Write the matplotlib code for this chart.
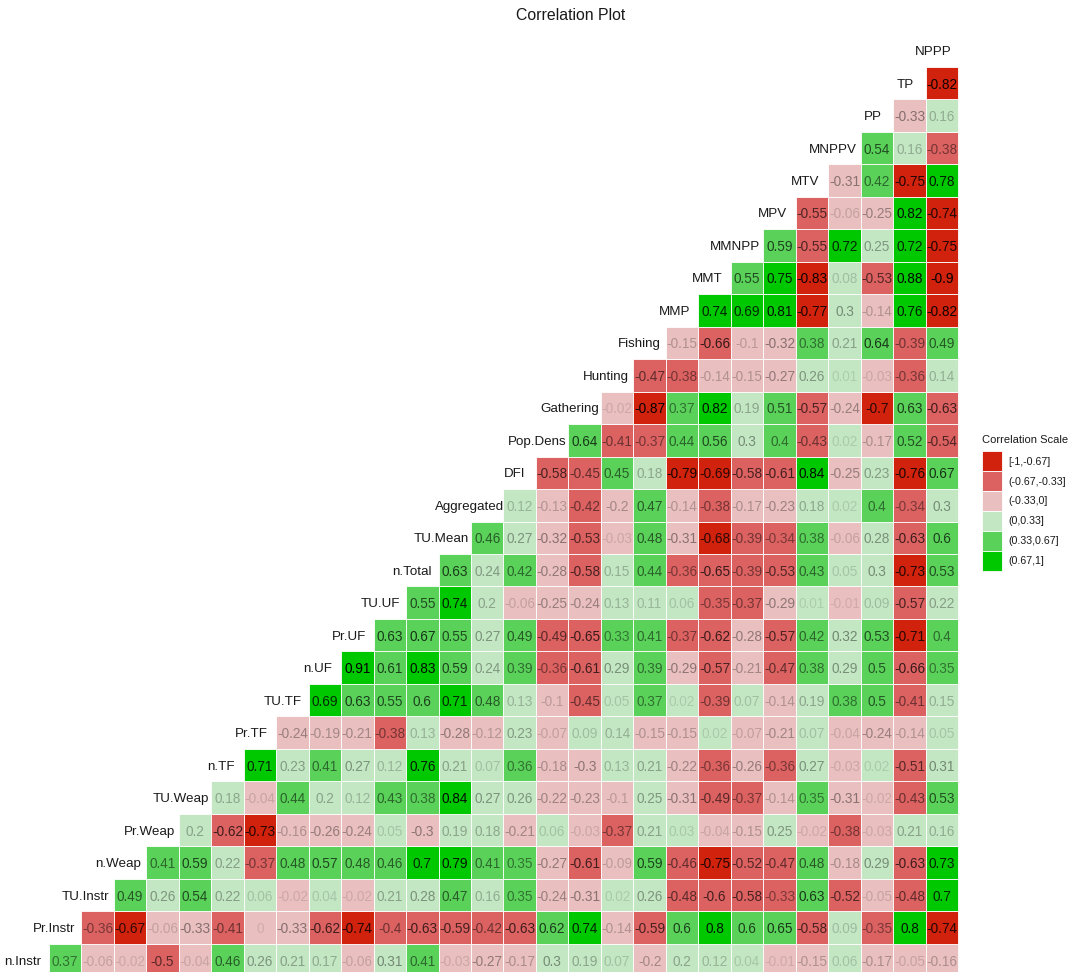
import numpy as np
import matplotlib.pyplot as plt
from matplotlib.patches import Rectangle, Patch

plt.rcParams['font.family'] = ['Liberation Sans', 'DejaVu Sans']

variables = ["n.Instr", "Pr.Instr", "TU.Instr", "n.Weap", "Pr.Weap", "TU.Weap",
             "n.TF", "Pr.TF", "TU.TF", "n.UF", "Pr.UF", "TU.UF", "n.Total",
             "TU.Mean", "Aggregated", "DFI", "Pop.Dens", "Gathering", "Hunting",
             "Fishing", "MMP", "MMT", "MMNPP", "MPV", "MTV", "MNPPV", "PP", "TP", "NPPP"]

# correlation of each variable with the variables after it
n_instr = [0.37, -0.06, -0.02, -0.5, -0.04, 0.46, 0.26, 0.21, 0.17, -0.06, 0.31, 0.41, -0.03, -0.27,
           -0.17, 0.3, 0.19, 0.07, -0.2, 0.2, 0.12, 0.04, -0.01, -0.15, 0.06, -0.17, -0.05, -0.16]
pr_instr = [-0.36, -0.67, -0.06, -0.328, -0.41, 0, -0.328, -0.62, -0.74, -0.4, -0.63, -0.59, -0.42,
            -0.63, 0.62, 0.74, -0.14, -0.59, 0.6, 0.8, 0.6, 0.65, -0.58, 0.09, -0.35, 0.8, -0.74]
tu_instr = [0.49, 0.26, 0.54, 0.22, 0.06, -0.02, 0.04, -0.02, 0.21, 0.28, 0.47, 0.16, 0.35, -0.24,
            -0.31, 0.02, 0.26, -0.48, -0.6, -0.58, -0.33, 0.63, -0.52, -0.05, -0.48, 0.7]
n_weap = [0.41, 0.59, 0.22, -0.37, 0.48, 0.57, 0.48, 0.46, 0.7, 0.79, 0.41, 0.35, -0.27, -0.61,
          -0.09, 0.59, -0.46, -0.75, -0.52, -0.47, 0.48, -0.18, 0.29, -0.63, 0.73]
pr_weap = [0.2, -0.62, -0.73, -0.16, -0.26, -0.24, 0.05, -0.3, 0.19, 0.18, -0.21, 0.06, -0.03,
           -0.37, 0.21, 0.03, -0.04, -0.15, 0.25, -0.02, -0.38, -0.03, 0.21, 0.16]
tu_weap = [0.18, -0.04, 0.44, 0.2, 0.12, 0.43, 0.38, 0.84, 0.27, 0.26, -0.22, -0.23, -0.1, 0.25,
           -0.31, -0.49, -0.37, -0.14, 0.35, -0.31, -0.02, -0.43, 0.53]
n_tf = [0.71, 0.23, 0.41, 0.27, 0.12, 0.76, 0.21, 0.07, 0.36, -0.18, -0.3, 0.13, 0.21, -0.22,
        -0.36, -0.26, -0.36, 0.27, -0.03, 0.02, -0.51, 0.31]
pr_tf = [-0.24, -0.19, -0.21, -0.38, 0.13, -0.28, -0.12, 0.23, -0.07, 0.09, 0.14, -0.15, -0.15,
         0.02, -0.07, -0.21, 0.07, -0.04, -0.24, -0.14, 0.05]
tu_tf = [0.69, 0.63, 0.55, 0.6, 0.71, 0.48, 0.13, -0.1, -0.45, 0.05, 0.37, 0.02, -0.39, 0.07,
         -0.14, 0.19, 0.38, 0.5, -0.41, 0.15]
n_uf = [0.91, 0.61, 0.83, 0.59, 0.24, 0.39, -0.36, -0.61, 0.29, 0.39, -0.29, -0.57, -0.21, -0.47,
        0.38, 0.29, 0.5, -0.66, 0.35]
pr_uf = [0.63, 0.67, 0.55, 0.27, 0.49, -0.49, -0.65, 0.334, 0.41, -0.37, -0.62, -0.28, -0.57, 0.42,
         0.32, 0.53, -0.71, 0.4]
tu_uf = [0.55, 0.74, 0.2, -0.06, -0.25, -0.24, 0.13, 0.11, 0.06, -0.35, -0.37, -0.29, 0.01, -0.01,
         0.09, -0.57, 0.22]
n_total = [0.63, 0.24, 0.42, -0.28, -0.58, 0.15, 0.44, -0.36, -0.65, -0.39, -0.53, 0.43, 0.05, 0.3,
           -0.73, 0.53]
tu_mean = [0.46, 0.27, -0.32, -0.53, -0.03, 0.48, -0.31, -0.68, -0.39, -0.34, 0.38, -0.06, 0.28,
           -0.63, 0.6]
aggregated = [0.12, -0.13, -0.42, -0.2, 0.47, -0.14, -0.38, -0.17, -0.23, 0.18, 0.02, 0.4, -0.34, 0.3]
dfi = [-0.58, -0.45, 0.45, 0.18, -0.79, -0.69, -0.58, -0.61, 0.84, -0.25, 0.23, -0.76, 0.67]
pop_dens = [0.64, -0.41, -0.37, 0.44, 0.56, 0.3, 0.4, -0.43, 0.02, -0.17, 0.52, -0.54]
gathering = [-0.02, -0.87, 0.37, 0.82, 0.19, 0.51, -0.57, -0.24, -0.7, 0.63, -0.63]
hunting = [-0.47, -0.38, -0.14, -0.15, -0.27, 0.26, 0.01, -0.03, -0.36, 0.14]
fishing = [-0.15, -0.66, -0.1, -0.32, 0.38, 0.21, 0.64, -0.39, 0.49]
mmp = [0.74, 0.69, 0.81, -0.77, 0.3, -0.14, 0.76, -0.82]
mmt = [0.55, 0.75, -0.83, 0.08, -0.53, 0.88, -0.9]
mmnpp = [0.59, -0.55, 0.72, 0.25, 0.72, -0.75]
mpv = [-0.55, -0.06, -0.25, 0.82, -0.74]
mtv = [-0.31, 0.42, -0.75, 0.78]
mnppv = [0.54, 0.16, -0.38]
pp = [-0.328, 0.16]
tp = [-0.82]

rows = [n_instr, pr_instr, tu_instr, n_weap, pr_weap, tu_weap, n_tf, pr_tf, tu_tf, n_uf, pr_uf,
        tu_uf, n_total, tu_mean, aggregated, dfi, pop_dens, gathering, hunting, fishing, mmp, mmt,
        mmnpp, mpv, mtv, mnppv, pp, tp]

breaks = [-1, -0.67, -0.33, 0, 0.33, 0.67, 1]
legend_labels = ["[-1,-0.67]", "(-0.67,-0.33]", "(-0.33,0]", "(0,0.33]", "(0.33,0.67]", "(0.67,1]"]
colors = ["#D0220C", "#DC6262", "#E9BFBF", "#C3E7C3", "#5AD25A", "#00C800"]

fig = plt.figure(figsize=(10.68, 9.72), dpi=100)
ax = fig.add_axes([0, 0, 1, 1])
ax.set_xlim(-1.0006, 31.881)
ax.set_ylim(-0.369, 29.557)
ax.axis('off')

max_abs = max(abs(v) for row in rows for v in row)
for r, row in enumerate(rows):
    for k, v in enumerate(row):
        c = r + 1 + k
        b = int(np.digitize(v, breaks[1:-1], right=True))
        ax.add_patch(Rectangle((c - 0.5, r - 0.5), 1, 1, facecolor=colors[b],
                               edgecolor='white', linewidth=0.6))
        alpha = 0.1 + 0.9 * abs(v) / max_abs
        ax.text(c, r, f"{round(v, 2):g}", ha='center', va='center_baseline',
                fontsize=9.8, color='black', alpha=alpha)

# diagonal labels, hjust 0.75
renderer = fig.canvas.get_renderer()
px_per_unit = ax.transData.transform((1, 0))[0] - ax.transData.transform((0, 0))[0]
for i, name in enumerate(variables):
    t = ax.text(i, i, name, ha='left', va='center_baseline', fontsize=9.6, color='#1a1a1a')
    w = t.get_window_extent(renderer).width / px_per_unit
    t.set_x(i - 0.75 * w)

fig.text(571 / 1068, 1 - 16 / 972, "Correlation Plot", ha='center', va='center',
         fontsize=11.4, color='#1a1a1a')

# legend
fig.text(981.5 / 1068, 1 - 440 / 972, "Correlation Scale", ha='left', va='center',
         fontsize=8, color='#1a1a1a')
handles = [Patch(facecolor=col, edgecolor='white', linewidth=0.6) for col in colors]
fig.legend(handles, legend_labels, loc='upper left',
           bbox_to_anchor=(981.5 / 1068, 1 - 451.5 / 972), frameon=False, fontsize=7.7,
           borderpad=0, borderaxespad=0, handlelength=1.92, handleheight=2.48,
           labelspacing=0, handletextpad=0.62, labelcolor='#1a1a1a')

fig.savefig('out.png', dpi=100)
